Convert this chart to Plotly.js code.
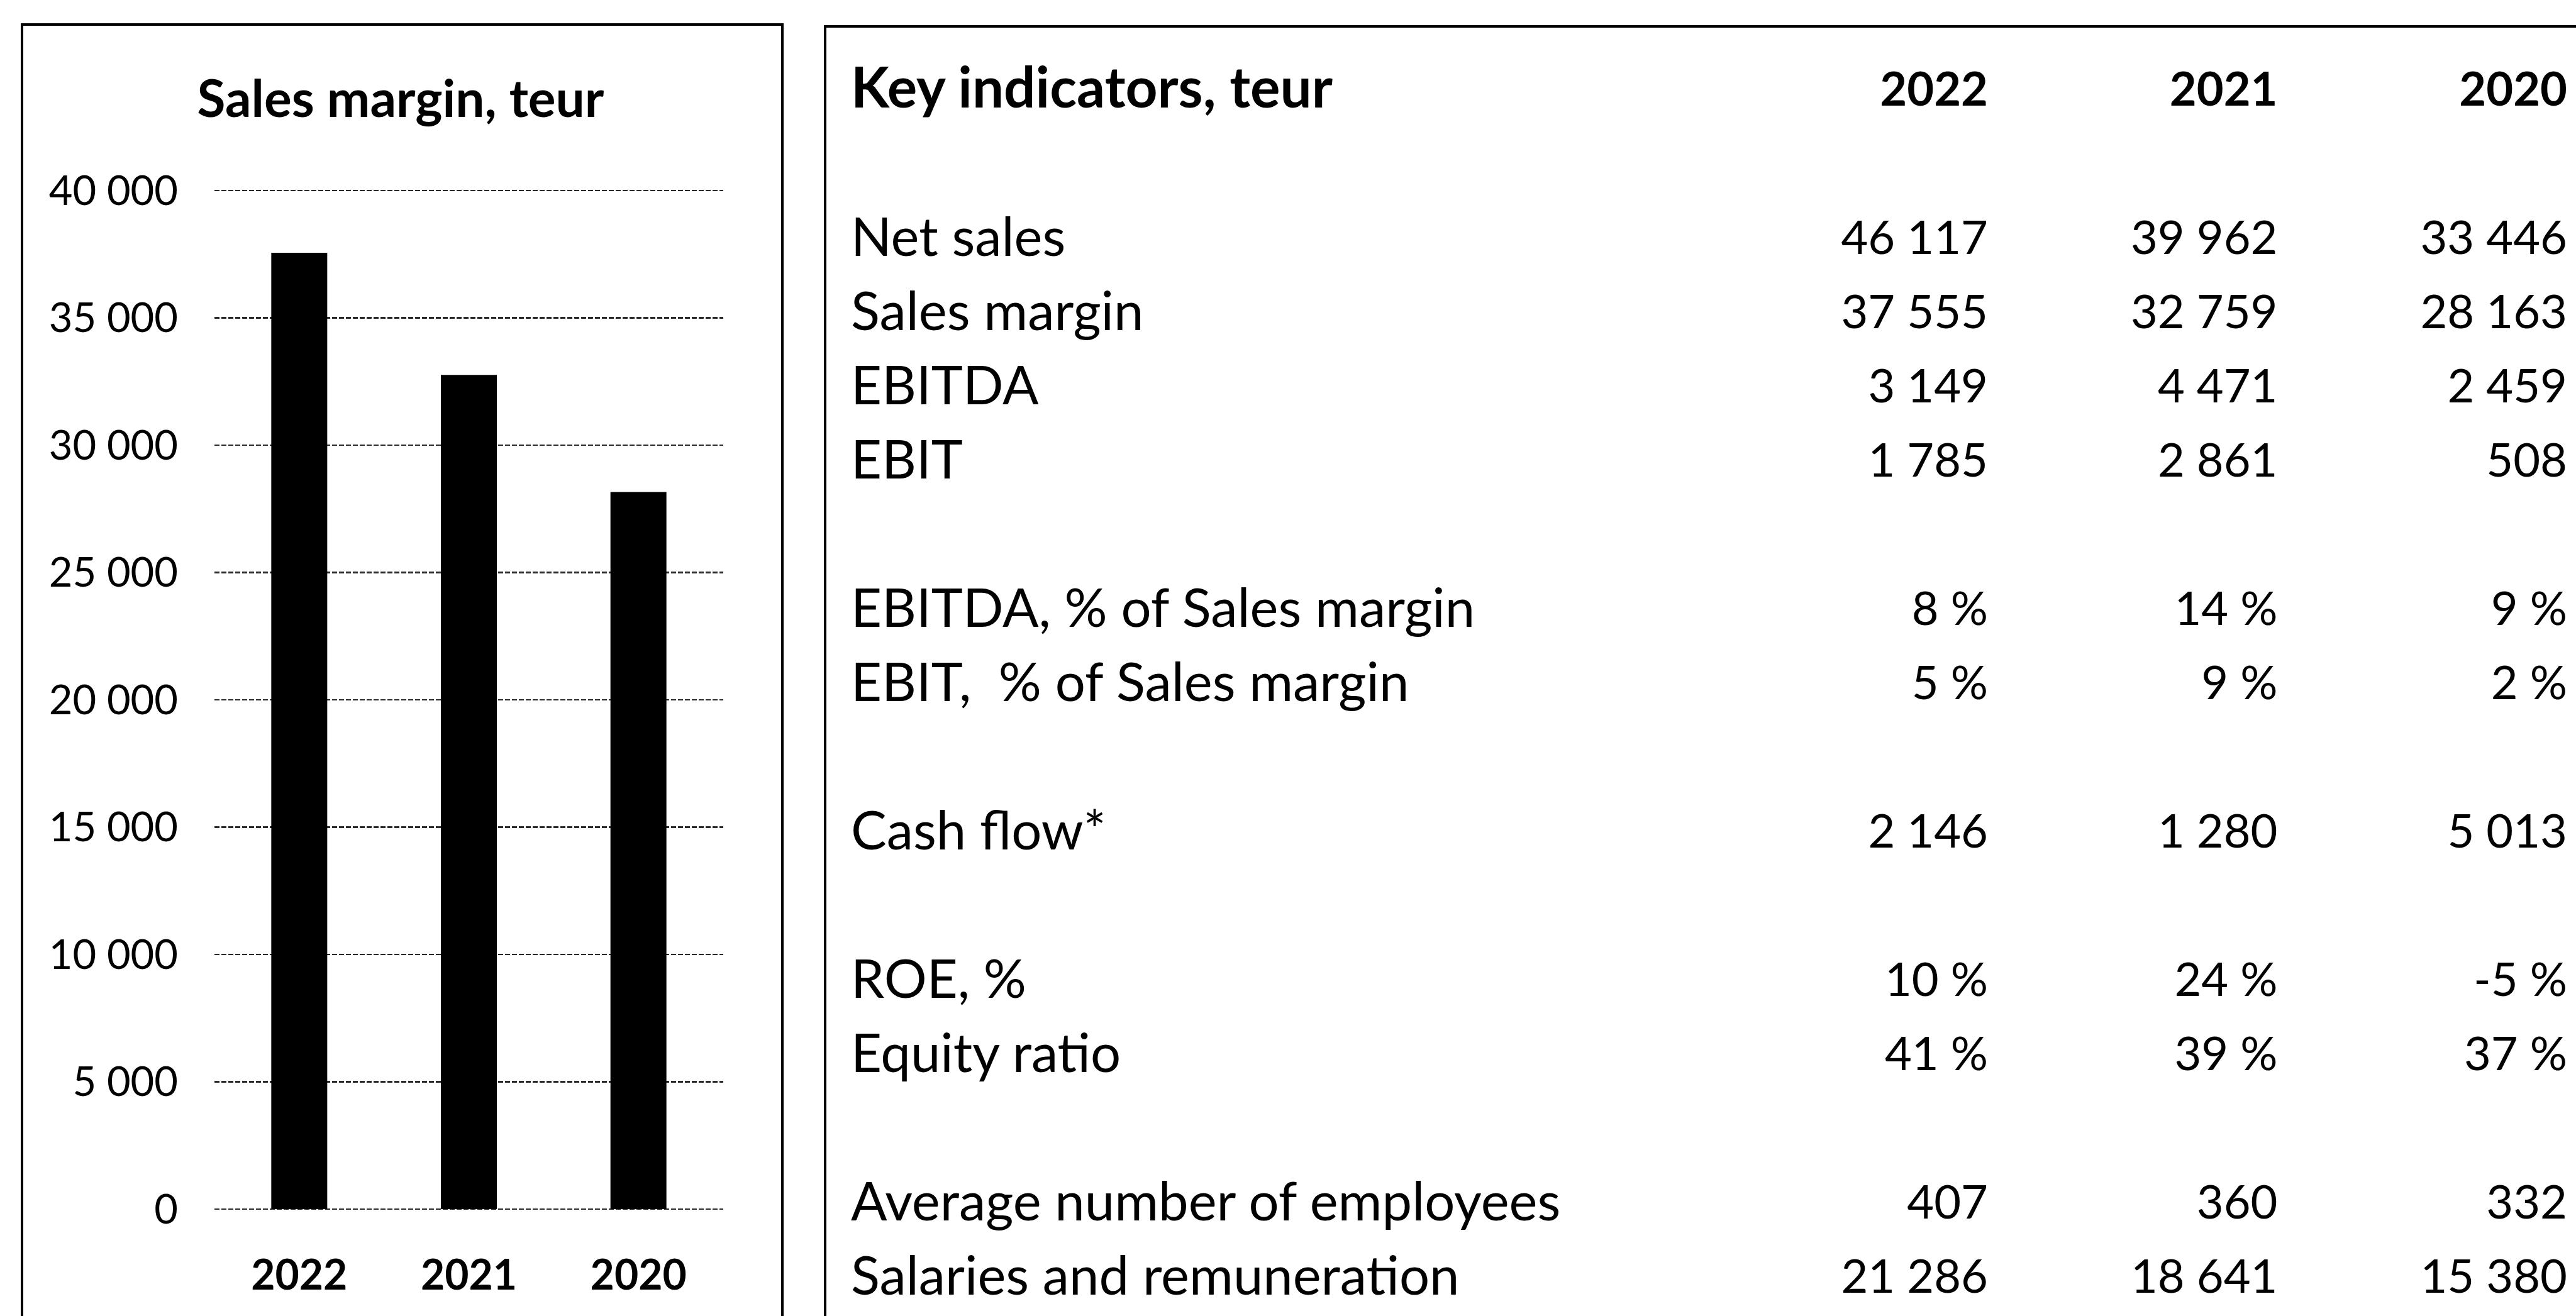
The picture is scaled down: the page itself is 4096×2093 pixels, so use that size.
<!DOCTYPE html>
<html>
<head>
<meta charset="utf-8">
<script src="https://cdn.plot.ly/plotly-3.0.1.min.js"></script>
<style>
  html, body { margin: 0; padding: 0; background: #ffffff; }
  #chart { width: 4096px; height: 2093px; }
</style>
</head>
<body>
<div id="chart"></div>
<script>
// ---------- data ----------
const years = ["2022", "2021", "2020"];
const salesMargin = [37555, 32759, 28163];
const yTicks = [0, 5000, 10000, 15000, 20000, 25000, 30000, 35000, 40000];

const tableTitle = "Key indicators, teur";
const chartTitle = "Sales margin, teur";
const indicatorLabels = [
  "Net sales", "Sales margin", "EBITDA", "EBIT", "",
  "EBITDA, % of Sales margin", "EBIT,\u00a0 % of Sales margin", "",
  "Cash flow*", "",
  "ROE, %", "Equity ratio", "",
  "Average number of employees", "Salaries and remuneration"
];
const indicatorUnits = ["", "", "", "", "", "%", "%", "", "", "", "%", "%", "", "", ""];
const values2022 = [46117, 37555, 3149, 1785, null, 8, 5, null, 2146, null, 10, 41, null, 407, 21286];
const values2021 = [39962, 32759, 4471, 2861, null, 14, 9, null, 1280, null, 24, 39, null, 360, 18641];
const values2020 = [33446, 28163, 2459, 508, null, 9, 2, null, 5013, null, -5, 37, null, 332, 15380];

// ---------- layout geometry (pixels in the 4096 x 2093 window) ----------
const W = 4096, H = 2093;
const fx = v => v / W;
const fy = v => 1 - v / H;

const FONT = "Lato, 'Open Sans', sans-serif";

function fmt(n, unit) {
  if (n === null) return "";
  const s = String(Math.abs(n)).replace(/\B(?=(\d{3})+(?!\d))/g, " ");
  return (n < 0 ? "-" : "") + s + (unit ? " " + unit : "");
}

// table rows: header row 0, one blank row, then indicators
const rowIndex = indicatorLabels.map((_, i) => i + 2);
const tableCols = [values2022, values2021, values2020];

const traces = [];

// bar chart
traces.push({
  type: "bar",
  x: years,
  y: salesMargin,
  xaxis: "x",
  yaxis: "y",
  marker: { color: "#000000", line: { width: 0 } },
  hoverinfo: "skip"
});

// table header years
traces.push({
  type: "scatter",
  mode: "text",
  x: years,
  y: years.map(() => 0),
  text: years,
  textposition: "middle left",
  textfont: { family: FONT, size: 74, color: "#000000", weight: "bold" },
  xaxis: "x2",
  yaxis: "y2",
  cliponaxis: false,
  hoverinfo: "skip"
});

// table values
const vx = [], vy = [], vt = [];
years.forEach((yr, j) => {
  tableCols[j].forEach((v, i) => {
    if (v === null) return;
    vx.push(yr);
    vy.push(rowIndex[i]);
    vt.push(fmt(v, indicatorUnits[i]));
  });
});
traces.push({
  type: "scatter",
  mode: "text",
  x: vx,
  y: vy,
  text: vt,
  textposition: "middle left",
  textfont: { family: FONT, size: 74, color: "#000000" },
  xaxis: "x2",
  yaxis: "y2",
  cliponaxis: false,
  hoverinfo: "skip"
});

// geometry of bar subplot (pad keeps the 0 and 40 000 grid lines inside the range)
const plotL = 341, plotR = 1150, plotT = 303, plotB = 1923, pad = 3;
const yMin = 0, yMax = 40000;
const unitsPerPx = (yMax - yMin) / (plotB - plotT);
// table geometry
const colRight0 = 3161, colStep = 460.5;
const rowTop0 = 140.8, rowStep = 118.0;
const labelX = 1352;
const valueShift = 9;

const layout = {
  width: W,
  height: H,
  margin: { l: 0, r: 0, t: 0, b: 0, pad: 0 },
  paper_bgcolor: "#ffffff",
  plot_bgcolor: "rgba(0,0,0,0)",
  showlegend: false,
  separators: ", ",
  bargap: 0.67,
  font: { family: FONT, color: "#000000" },
  title: {
    text: "<b>" + chartTitle + "</b>",
    x: fx(637), xanchor: "center",
    y: fy(157), yanchor: "middle",
    font: { family: FONT, size: 82, color: "#000000" }
  },
  xaxis: {
    domain: [fx(plotL), fx(plotR)],
    anchor: "y",
    type: "category",
    showgrid: false,
    zeroline: false,
    showline: false,
    ticks: "",
    ticklabelstandoff: 58,
    tickfont: { family: FONT, size: 66, color: "#000000", weight: "bold" },
    automargin: false,
    fixedrange: true
  },
  yaxis: {
    domain: [fy(plotB + pad), fy(plotT - pad)],
    anchor: "x",
    range: [yMin - pad * unitsPerPx, yMax + pad * unitsPerPx],
    tickvals: yTicks,
    tickformat: ",d",
    showgrid: true,
    gridcolor: "#2a2a2a",
    gridwidth: 2.5,
    griddash: "8px,3px",
    zeroline: false,
    showline: false,
    ticks: "",
    ticklabelstandoff: 57,
    tickfont: { family: FONT, size: 65, color: "#000000" },
    automargin: false,
    fixedrange: true
  },
  xaxis2: {
    domain: [0, 1],
    anchor: "y2",
    type: "category",
    categoryarray: years,
    range: [-colRight0 / colStep, (W - colRight0) / colStep],
    visible: false,
    fixedrange: true
  },
  yaxis2: {
    domain: [0, 1],
    anchor: "free",
    position: fx(labelX),
    side: "right",
    range: [(H - rowTop0 - valueShift) / rowStep, -(rowTop0 + valueShift) / rowStep],
    tickvals: [0].concat(rowIndex),
    ticktext: ["<b><span style=\"font-size:89px\">" + tableTitle + "</span></b>"].concat(indicatorLabels),
    ticklabelshift: 9,
    showgrid: false,
    zeroline: false,
    showline: false,
    ticks: "",
    tickfont: { family: FONT, size: 85, color: "#000000" },
    automargin: false,
    fixedrange: true
  },
  shapes: [
    { type: "rect", xref: "paper", yref: "paper",
      x0: fx(35), x1: fx(1244), y0: fy(2140), y1: fy(39),
      line: { color: "#000000", width: 4 }, fillcolor: "rgba(0,0,0,0)" },
    { type: "rect", xref: "paper", yref: "paper",
      x0: fx(1312), x1: fx(4160), y0: fy(2140), y1: fy(42),
      line: { color: "#000000", width: 4 }, fillcolor: "rgba(0,0,0,0)" }
  ]
};

Plotly.newPlot("chart", traces, layout, { staticPlot: true, displayModeBar: false });
</script>
</body>
</html>
